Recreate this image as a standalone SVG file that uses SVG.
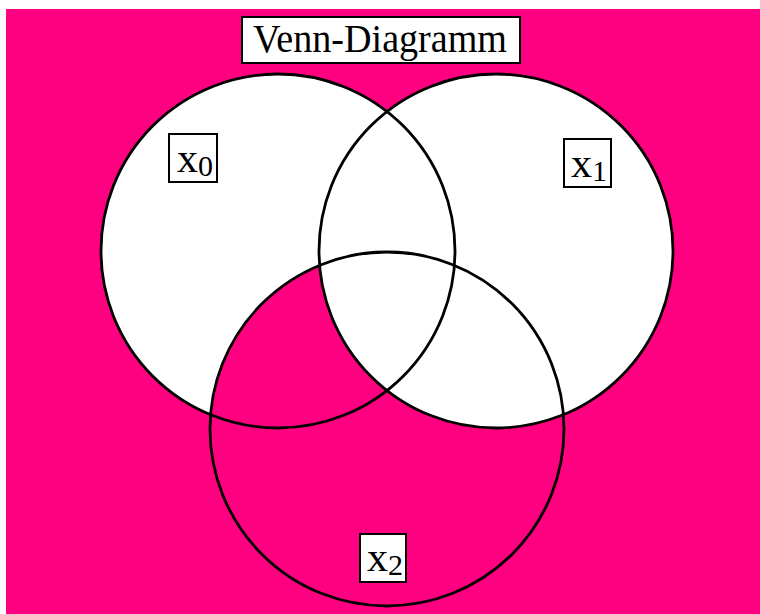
<svg xmlns="http://www.w3.org/2000/svg" width="760" height="614" viewBox="0 0 760 614">
<style>
.bg{fill:#FF0080}
.wf{fill:#FFFFFF}
.mf{fill:#FF0080}
.ol{fill:none;stroke:#000;stroke-width:2.8}
.box{fill:#FFFFFF;stroke:#000;stroke-width:2}
.t{font-family:"Liberation Serif","Times New Roman",serif;fill:#000}
</style>
<rect x="0" y="0" width="760" height="614" fill="#FFFFFF"/>
<rect class="bg" x="6" y="9" width="754" height="605"/>
<g id="fills">
<circle class="wf" cx="278" cy="251" r="177"/>
<circle class="mf" cx="387" cy="429" r="177"/>
<circle class="wf" cx="496" cy="251" r="177"/>
</g>
<g id="set-x0"><circle class="ol" cx="278" cy="251" r="177"/></g>
<g id="set-x1"><circle class="ol" cx="496" cy="251" r="177"/></g>
<g id="set-x2"><circle class="ol" cx="387" cy="429" r="177"/></g>
<g id="title">
<rect class="box" x="242" y="17" width="278" height="46"/>
<text class="t" x="253" y="52" font-size="41" textLength="254" lengthAdjust="spacingAndGlyphs">Venn-Diagramm</text>
</g>
<g id="label-x0">
<rect class="box" x="169" y="134" width="48" height="48"/>
<text class="t" x="177" y="172" font-size="42">x<tspan font-size="30" dy="4">0</tspan></text>
</g>
<g id="label-x1">
<rect class="box" x="564" y="139" width="47" height="48"/>
<text class="t" x="571" y="177" font-size="42">x<tspan font-size="30" dy="4">1</tspan></text>
</g>
<g id="label-x2">
<rect class="box" x="360" y="534" width="46" height="48"/>
<text class="t" x="367" y="571" font-size="42">x<tspan font-size="30" dy="4">2</tspan></text>
</g>
</svg>
